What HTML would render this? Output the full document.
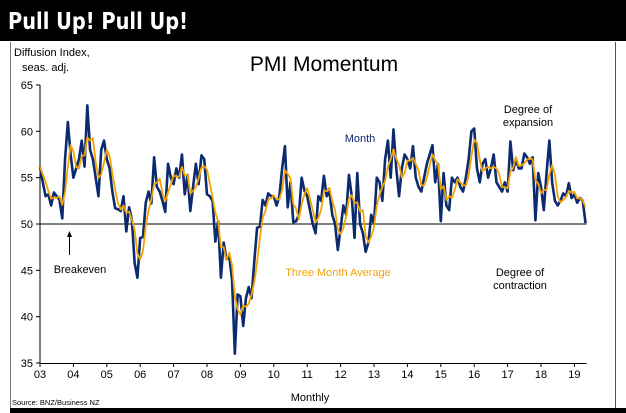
<!DOCTYPE html>
<html><head><meta charset="utf-8"><style>
body{margin:0;background:#fff;}
svg{display:block;font-family:"Liberation Sans",sans-serif;}
</style></head><body>
<svg width="626" height="413" viewBox="0 0 626 413">
<rect x="0" y="0" width="626" height="41" fill="#000"/>
<text x="8" y="29" font-size="23" font-weight="bold" fill="#fff" textLength="180" lengthAdjust="spacingAndGlyphs" font-family="'DejaVu Sans',sans-serif">Pull Up! Pull Up!</text>
<line x1="10.5" y1="42" x2="10.5" y2="410" stroke="#777" stroke-width="1"/>
<line x1="615.5" y1="42" x2="615.5" y2="410" stroke="#555" stroke-width="1"/>
<rect x="10" y="408" width="616" height="5" fill="#000"/>
<text x="14" y="56" font-size="11">Diffusion Index,</text>
<text x="22" y="71" font-size="11">seas. adj.</text>
<text x="324" y="71" font-size="21" text-anchor="middle">PMI Momentum</text>
<g id="axes"></g>
<g id="plot"></g>
<text x="360" y="142" font-size="11" fill="#0b2a6f" text-anchor="middle">Month</text>
<text x="338" y="276" font-size="11" fill="#f5a300" text-anchor="middle">Three Month Average</text>
<text x="528" y="113" font-size="11" text-anchor="middle">Degree of</text>
<text x="528" y="126" font-size="11" text-anchor="middle">expansion</text>
<text x="520" y="276" font-size="11" text-anchor="middle">Degree of</text>
<text x="520" y="289" font-size="11" text-anchor="middle">contraction</text>
<text x="80" y="273" font-size="11" text-anchor="middle">Breakeven</text>
<line x1="69.5" y1="255" x2="69.5" y2="234" stroke="#000" stroke-width="1"/>
<polygon points="69.5,231 67,237 72,237" fill="#000"/>
<text x="310" y="401" font-size="11" text-anchor="middle">Monthly</text>
<text x="12" y="405" font-size="7.5">Source: BNZ/Business NZ</text>
</svg>
<script>
const yearLabels=["03","04","05","06","07","08","09","10","11","12","13","14","15","16","17","18","19"];
const yTicks=[35,40,45,50,55,60,65];
const monthly=[
56.2,54.5,53,53.2,52,53.4,53,52.6,50.6,57,61,57.5,
55,56,57,59,56.2,62.8,58,57,55,53,58,59,
57,56,53.5,51.7,51.6,51.4,53,49.2,51.8,50.5,45.8,44.2,
48.5,48.6,52.3,53.5,52.2,57.2,54,53.5,52.5,51.3,56.5,55,
54.3,56,55,57.5,53.2,55.3,51.4,54,56.5,54.3,57.4,57,
53.2,53,52.5,48.1,50.3,44.2,48,46.2,46.5,44,36,42.4,
42.2,39,42,43.2,42,46,49.6,49.7,52.6,52,53.3,53,
53,52,53,56,58.4,51.8,54.5,50.2,50.3,51,55,53.6,
53,51.5,50,49,53,52.5,55.2,53,53.5,51,50,47.2,
49.5,52,51,55.3,53,48.5,55.5,50,49,47,48,51,
50,55,54.5,52.5,57,59,55,60.2,56,53,56,57.5,
57,56,58.4,55,54,53.5,55,56.5,57.5,58.5,54.5,56.5,
50.3,55.5,52,51.5,55,54.5,55,54,53.5,55,57,60,
60.3,56,54.5,56.5,57,55,56,57.5,54.5,54,53.5,54.5,
53.5,58.9,55.8,57,56,56,57.6,57.2,56.5,57.2,50.4,55.5,
54,51.5,55.5,59,54.5,52.5,52,52.5,53.3,53,54.4,52.8,
53.2,52.3,52.8,52.5,50.1];
const NS="http://www.w3.org/2000/svg";
const x0=40,pxYear=33.4,yTop=85,yBot=363,vMin=35,vMax=65;
const xs=i=>x0+i*pxYear/12;
const ys=v=>yBot-(v-vMin)/(vMax-vMin)*(yBot-yTop);
const axes=document.getElementById('axes'),plot=document.getElementById('plot');
function mk(tag,attrs,parent){const e=document.createElementNS(NS,tag);for(const k in attrs)e.setAttribute(k,attrs[k]);parent.appendChild(e);return e;}
const xEnd=xs(monthly.length-1)+1;
let ya=mk('line',{x1:x0,y1:yTop,x2:x0,y2:yBot,stroke:'#000','stroke-width':1},axes);


let xa=mk('line',{x1:x0,y1:yBot+0.5,x2:xEnd,y2:yBot+0.5,stroke:'#000','stroke-width':1},axes);


yTicks.forEach(v=>{
  let t=mk('line',{x1:x0-4,y1:ys(v),x2:x0,y2:ys(v),stroke:'#000'},axes);
  
  
  let l=mk('text',{x:x0-7,y:ys(v)+4,'font-size':11,'text-anchor':'end'},axes);
  l.textContent=v;
  
  
});
yearLabels.forEach((s,i)=>{
  const x=xs(i*12);
  let t=mk('line',{x1:x,y1:yBot,x2:x,y2:yBot+4,stroke:'#000'},axes);
  
  
  let l=mk('text',{x:x,y:yBot+15,'font-size':11,'text-anchor':'middle'},axes);
  l.textContent=s;
  
  
});
let be=mk('line',{x1:x0,y1:ys(50),x2:xEnd,y2:ys(50),stroke:'#000','stroke-width':1},plot);


const avg=monthly.map((v,i)=>{const a=monthly.slice(Math.max(0,i-2),i+1);return a.reduce((s,x)=>s+x,0)/a.length;});
let pm=mk('polyline',{points:monthly.map((v,i)=>xs(i)+','+ys(v)).join(' '),fill:'none',stroke:'#0b2a6f','stroke-width':2.6,'stroke-linejoin':'round'},plot);


let pa=mk('polyline',{points:avg.map((v,i)=>xs(i)+','+ys(v)).join(' '),fill:'none',stroke:'#f5a300','stroke-width':1.8,'stroke-linejoin':'round'},plot);


</script>
</body></html>
